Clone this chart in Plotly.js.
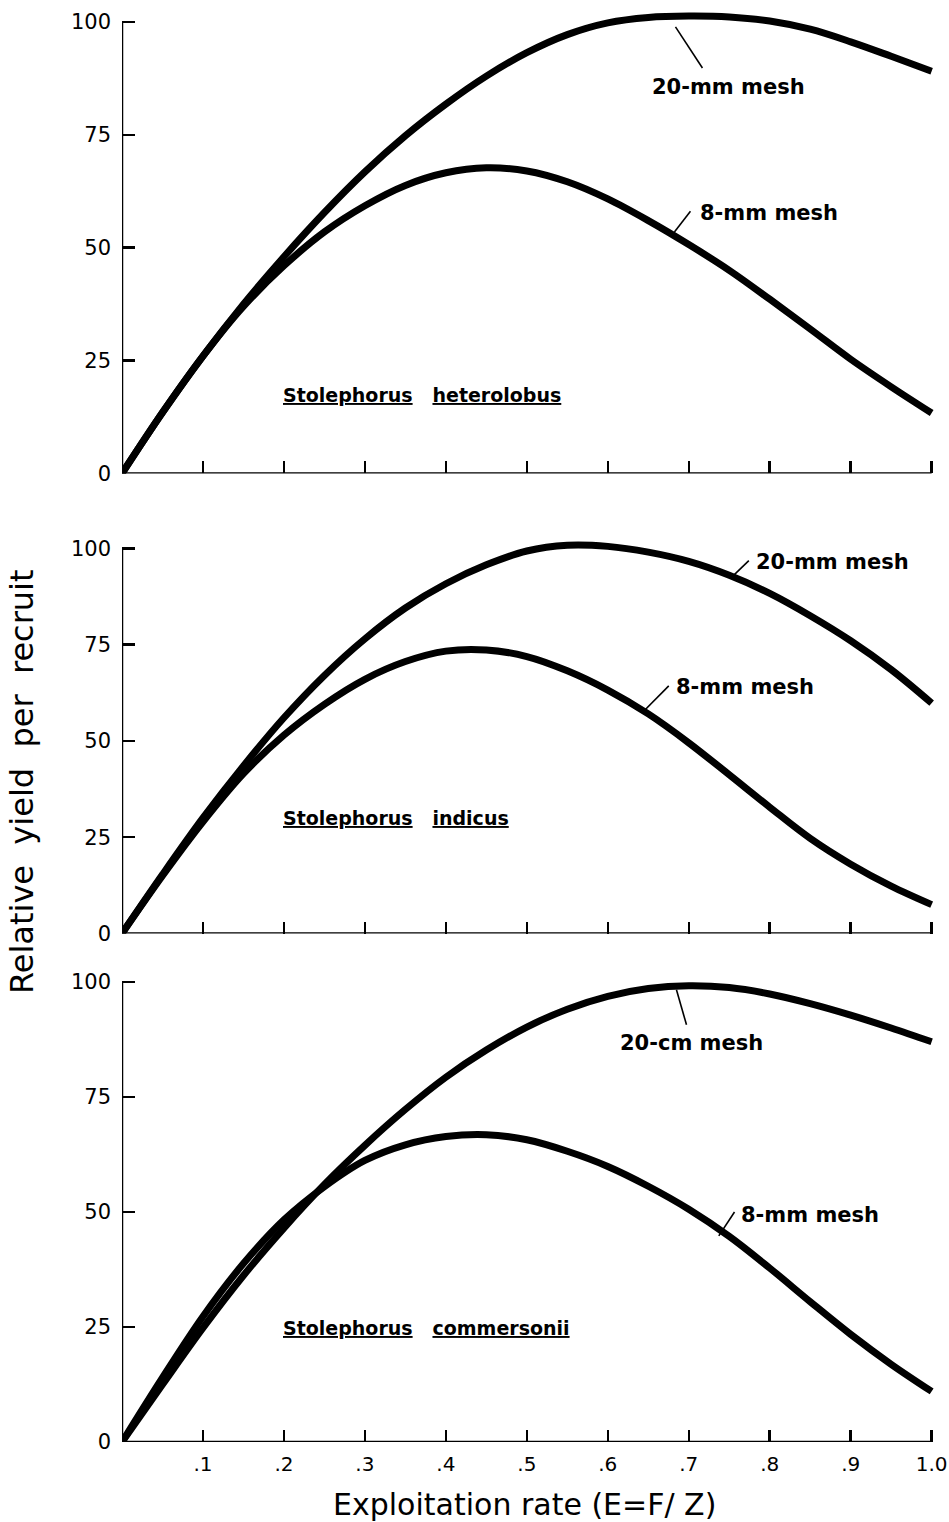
<!DOCTYPE html>
<html>
<head>
<meta charset="utf-8">
<script src="https://cdn.plot.ly/plotly-3.0.1.min.js"></script>
<style>html,body{margin:0;padding:0;background:#fff;}#chart{width:949px;height:1522px;}</style>
</head>
<body>
<div id="chart"></div>
<script>
// Exploitation rate E = F/Z
const E = [0, .05, .1, .15, .2, .25, .3, .35, .4, .45, .5, .55, .6, .65, .7, .75, .8, .85, .9, .95, 1.0];

// Panel 1: Stolephorus heterolobus
const heterolobus20mm = [0, 13.5, 26, 37.5, 48, 57.8, 66.8, 74.8, 81.8, 88, 93.2, 97.2, 99.8, 101, 101.3, 101.1, 100.2, 98.4, 95.6, 92.4, 89.1];
const heterolobus8mm  = [0, 13.5, 26, 37, 46, 53.5, 59.3, 63.8, 66.6, 67.7, 67, 64.6, 60.8, 56, 50.7, 45, 38.6, 32, 25.3, 19.2, 13.4];

// Panel 2: Stolephorus indicus
const indicus20mm = [0, 15.3, 30, 43.5, 56, 67, 76.5, 84.5, 90.8, 95.7, 99.3, 100.8, 100.5, 99, 96.6, 93, 88.3, 82.5, 76, 68.5, 59.8];
const indicus8mm  = [0, 15, 29, 41.5, 51.5, 59.5, 66, 70.6, 73.3, 73.6, 71.9, 68.2, 63.2, 57, 49.5, 41.2, 32.8, 24.7, 18, 12.3, 7.5];

// Panel 3: Stolephorus commersonii
const commersonii20cm = [0, 12.5, 24.8, 36.2, 46.5, 56, 64.5, 72.3, 79.3, 85.2, 90.2, 94.1, 96.9, 98.6, 99.2, 98.8, 97.4, 95.3, 92.8, 90, 87];
const commersonii8mm  = [0, 14, 27.3, 38.8, 48.3, 55.5, 61.2, 64.6, 66.4, 66.8, 65.7, 63.2, 59.9, 55.6, 50.6, 44.7, 37.8, 30.5, 23.4, 16.9, 11];

const xTickVals = [.1, .2, .3, .4, .5, .6, .7, .8, .9, 1.0];
const xTickText = ['.1', '.2', '.3', '.4', '.5', '.6', '.7', '.8', '.9', '1.0'];
const yTickVals = [0, 25, 50, 75, 100];
const yTickText = ['0', '25', '50', '75', '100'];

const panels = [
  {series: [heterolobus20mm, heterolobus8mm], labels: ['20-mm mesh', '8-mm mesh'], species: ['Stolephorus', 'heterolobus']},
  {series: [indicus20mm, indicus8mm], labels: ['20-mm mesh', '8-mm mesh'], species: ['Stolephorus', 'indicus']},
  {series: [commersonii20cm, commersonii8mm], labels: ['20-cm mesh', '8-mm mesh'], species: ['Stolephorus', 'commersonii']}
];

// layout geometry (styles / positions)
const yDomains = [[0.68890, 0.99744], [0.38666, 0.64987], [0.05256, 0.36688]];
const xDomain = [0.12856, 0.99085];
const labelPos = [
  {t20: [0.652, 85.6], t8: [0.711, 57.7], sp: [0.1965, 17.4], l20: [0.6836, 98.9, 0.7169, 89.8], l8: [0.6823, 53.5, 0.7021, 58.1]},
  {t20: [0.7800, 96.5], t8: [0.6815, 64.1], sp: [0.1965, 30.0], l20: [0.7515, 92.2, 0.7742, 96.8], l8: [0.6424, 57.3, 0.6753, 64.3]},
  {t20: [0.6130, 86.8], t8: [0.7615, 49.3], sp: [0.1965, 24.8], l20: [0.6848, 98.3, 0.6972, 90.7], l8: [0.7371, 44.8, 0.7565, 50.0]}
];

const traces = [];
const layout = {
  width: 949, height: 1522,
  margin: {l: 0, r: 0, t: 0, b: 0},
  paper_bgcolor: '#fff', plot_bgcolor: '#fff',
  showlegend: false,
  font: {family: 'DejaVu Sans, sans-serif', color: '#000'},
  shapes: [], annotations: []
};

const NB = '\u00A0';
panels.forEach((p, i) => {
  const n = i + 1;
  const xa = n === 1 ? 'x' : 'x' + n;
  const ya = n === 1 ? 'y' : 'y' + n;
  p.series.forEach((s, k) => {
    traces.push({
      x: E, y: s, xaxis: xa, yaxis: ya, type: 'scatter', mode: 'lines',
      name: p.labels[k],
      line: {color: '#000', width: 7, shape: 'spline', smoothing: 1},
      hoverinfo: 'skip'
    });
  });
  const xKey = n === 1 ? 'xaxis' : 'xaxis' + n;
  const yKey = n === 1 ? 'yaxis' : 'yaxis' + n;
  layout[xKey] = {
    domain: xDomain, anchor: ya, range: [0, 1.0107],
    showgrid: false, zeroline: false, showline: false,
    tickmode: 'array', tickvals: xTickVals, ticktext: xTickText,
    showticklabels: n === 3,
    ticks: 'inside', ticklen: 12, tickwidth: 2.5, tickcolor: '#000',
    ticklabelstandoff: 8,
    tickfont: {family: 'DejaVu Sans, sans-serif', size: 20, color: '#000'},
    fixedrange: true
  };
  layout[yKey] = {
    domain: yDomains[i], anchor: xa, range: [0, 104],
    showgrid: false, zeroline: false, showline: false,
    tickmode: 'array', tickvals: yTickVals, ticktext: yTickText,
    ticks: 'inside', ticklen: 13, tickwidth: 2.5, tickcolor: '#000',
    ticklabelstandoff: 10,
    tickfont: {family: 'DejaVu Sans, sans-serif', size: 21, color: '#000'},
    fixedrange: true
  };
  // axis lines
  layout.shapes.push({type: 'line', xref: xa, yref: ya, x0: 0, x1: 1, y0: 0, y1: 0, line: {color: '#000', width: 2.5}});
  layout.shapes.push({type: 'line', xref: xa, yref: ya, x0: 0, x1: 0, y0: 0, y1: 100, line: {color: '#000', width: 2.5}});
  // leader lines
  const lp = labelPos[i];
  [lp.l20, lp.l8].forEach(l => {
    layout.shapes.push({type: 'line', xref: xa, yref: ya, x0: l[0], y0: l[1], x1: l[2], y1: l[3], line: {color: '#000', width: 1.6}});
  });
  const lblFont = {family: 'DejaVu Sans, sans-serif', size: 21, color: '#000', weight: 'bold'};
  const spFont = {family: 'DejaVu Sans, sans-serif', size: 19, color: '#000', weight: 'bold'};
  layout.annotations.push({xref: xa, yref: ya, x: lp.t20[0], y: lp.t20[1], xanchor: 'left', yanchor: 'middle', showarrow: false, text: p.labels[0], font: lblFont});
  layout.annotations.push({xref: xa, yref: ya, x: lp.t8[0], y: lp.t8[1], xanchor: 'left', yanchor: 'middle', showarrow: false, text: p.labels[1], font: lblFont});
  layout.annotations.push({xref: xa, yref: ya, x: lp.sp[0], y: lp.sp[1], xanchor: 'left', yanchor: 'middle', showarrow: false,
    text: '<u>' + p.species[0] + '</u>' + NB + NB + NB + '<u>' + p.species[1] + '</u>', font: spFont});
});

// axis titles
layout.annotations.push({xref: 'paper', yref: 'paper', x: 0.0232, y: 0.4862, xanchor: 'center', yanchor: 'middle', showarrow: false,
  textangle: -90, text: 'Relative' + NB + NB + 'yield' + NB + NB + 'per' + NB + NB + 'recruit',
  font: {family: 'DejaVu Sans, sans-serif', size: 32, color: '#000'}});
layout.annotations.push({xref: 'paper', yref: 'paper', x: 0.5522, y: 0.0112, xanchor: 'center', yanchor: 'middle', showarrow: false,
  text: 'Exploitation' + NB + 'rate' + NB + '(E=F/' + NB + 'Z)',
  font: {family: 'DejaVu Sans, sans-serif', size: 30, color: '#000'}});

Plotly.newPlot('chart', traces, layout, {staticPlot: true, displayModeBar: false});
</script>
</body>
</html>
